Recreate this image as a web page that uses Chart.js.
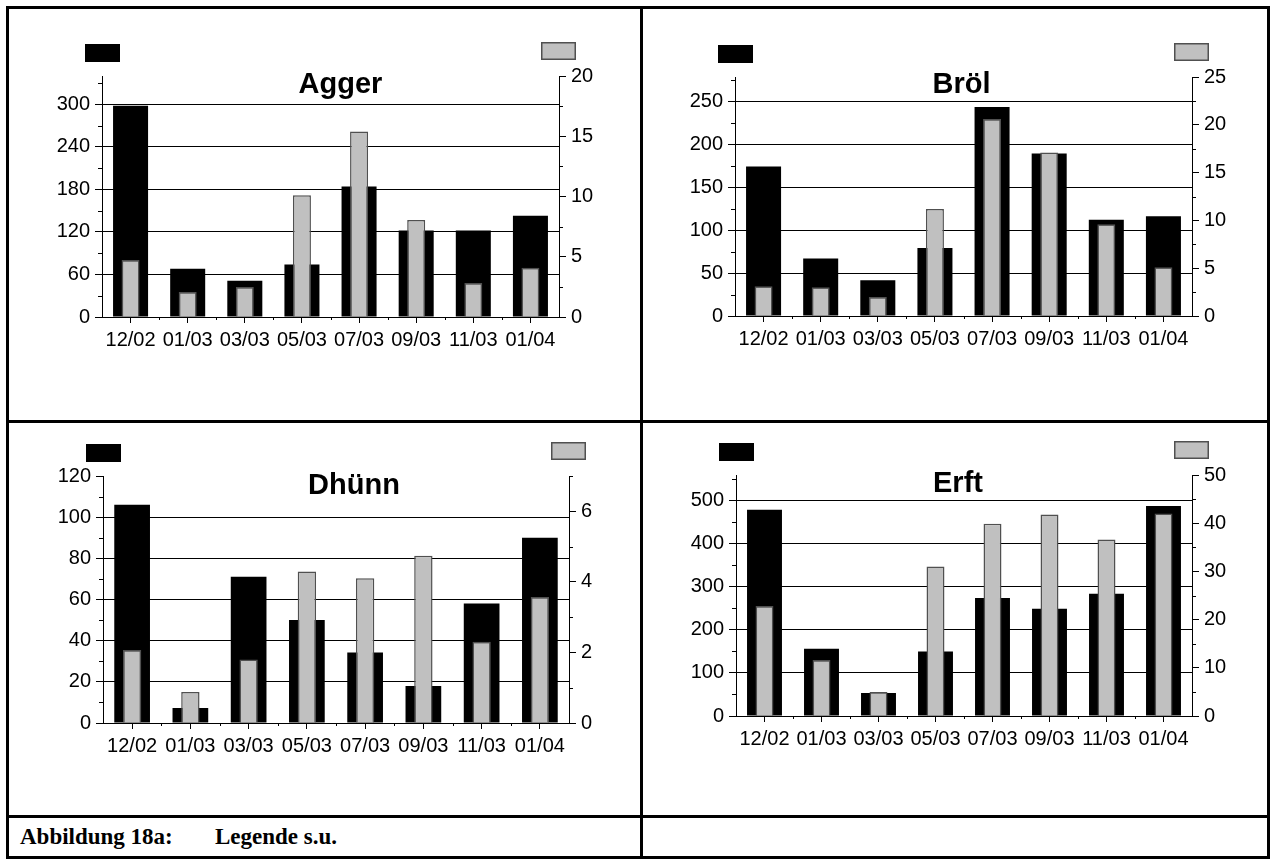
<!DOCTYPE html>
<html>
<head>
<meta charset="utf-8">
<script src="https://cdn.jsdelivr.net/npm/chart.js@4.4.1/dist/chart.umd.min.js"></script>
<style>
  html, body { margin: 0; padding: 0; background: #fff; }
  #page { position: relative; width: 1277px; height: 867px; overflow: hidden; background: #fff; }
  .cell { position: absolute; }
  .cell canvas { display: block; }
  .rule { position: absolute; background: #000; z-index: 5; }
  .caption { position: absolute; top: 823px; font: bold 23px "Liberation Serif", "Times New Roman", serif; color: #000; line-height: 28px; white-space: nowrap; }
</style>
</head>
<body>
<div id="page">
  <div class="cell" id="cell0"><canvas id="c0"></canvas></div>
  <div class="cell" id="cell1"><canvas id="c1"></canvas></div>
  <div class="cell" id="cell2"><canvas id="c2"></canvas></div>
  <div class="cell" id="cell3"><canvas id="c3"></canvas></div>

  <!-- table frame -->
  <div class="rule" style="left:6px; top:6px; width:1264px; height:3px;"></div>
  <div class="rule" style="left:6px; top:856px; width:1264px; height:3px;"></div>
  <div class="rule" style="left:6px; top:6px; width:3px; height:853px;"></div>
  <div class="rule" style="left:1267px; top:6px; width:3px; height:853px;"></div>
  <div class="rule" style="left:640px; top:6px; width:3px; height:853px;"></div>
  <div class="rule" style="left:6px; top:420px; width:1264px; height:3px;"></div>
  <div class="rule" style="left:6px; top:815px; width:1264px; height:3px;"></div>

  <div class="caption" style="left:20px;">Abbildung 18a:</div>
  <div class="caption" style="left:215px;">Legende s.u.</div>
</div>

<script>
// sampling dates
const categories = ['12/02', '01/03', '03/03', '05/03', '07/03', '09/03', '11/03', '01/04'];

// Agger
const aggerBlack = [298, 68, 51, 74, 184, 122, 122, 143];
const aggerGrey  = [4.73, 2.07, 2.49, 10.1, 15.4, 8.05, 2.82, 4.09];

// Bröl
const broelBlack = [174, 67, 41.5, 79, 243, 189, 112, 116];
const broelGrey  = [3.1, 3.0, 2.0, 11.2, 20.6, 17.1, 9.6, 5.1];

// Dhünn
const duennBlack = [106, 7.3, 71, 50, 34.3, 18, 58, 90];
const duennGrey  = [2.07, 0.88, 1.8, 4.29, 4.1, 4.74, 2.3, 3.57];

// Erft
const erftBlack = [479, 156, 53.5, 150, 274, 249, 284, 488];
const erftGrey  = [22.8, 11.6, 5.0, 31.0, 39.9, 41.8, 36.6, 42.0];

// axis ranges: [max, major step]
const aggerLeftAxis  = [340, 60];
const aggerRightAxis = [20, 5];
const broelLeftAxis  = [278, 50];
const broelRightAxis = [25, 5];
const duennLeftAxis  = [120, 20];
const duennRightAxis = [7, 2];
const erftLeftAxis   = [560, 100];
const erftRightAxis  = [50, 10];

// layout of the four panels (page pixels)
const panels = [
  { canvas: 'c0', cellId: 'cell0', title: 'Agger', black: aggerBlack, grey: aggerGrey,
    left: aggerLeftAxis, right: aggerRightAxis,
    cell: [9, 9, 631, 411], plot: [102, 76, 559, 317], titleDx: 10, titleDy: 17 },
  { canvas: 'c1', cellId: 'cell1', title: 'Bröl', black: broelBlack, grey: broelGrey,
    left: broelLeftAxis, right: broelRightAxis,
    cell: [643, 9, 624, 411], plot: [735, 77, 1192, 316], titleDx: -2, titleDy: 16 },
  { canvas: 'c2', cellId: 'cell2', title: 'Dhünn', black: duennBlack, grey: duennGrey,
    left: duennLeftAxis, right: duennRightAxis,
    cell: [9, 423, 631, 392], plot: [103, 476, 569, 723], titleDx: 18, titleDy: 18 },
  { canvas: 'c3', cellId: 'cell3', title: 'Erft', black: erftBlack, grey: erftGrey,
    left: erftLeftAxis, right: erftRightAxis,
    cell: [643, 423, 624, 392], plot: [736, 475, 1192, 716], titleDx: -6, titleDy: 17 }
];

const FONT = '"Liberation Sans", Arial, sans-serif';
const LEFT_W = 60, RIGHT_W = 50, BOTTOM_H = 40;

// title, legend swatches and minor ticks
const panelDecor = {
  id: 'panelDecor',
  afterDraw(chart, args, opts) {
    const ctx = chart.ctx;
    const a = chart.chartArea;
    const ys = chart.scales.y, y1 = chart.scales.y1, xs = chart.scales.x;
    ctx.save();

    // minor ticks
    ctx.strokeStyle = '#000';
    ctx.lineWidth = 1;
    ctx.beginPath();
    const lMinor = opts.leftStep / 2;
    for (let v = lMinor; v <= opts.leftMax + 1e-9; v += opts.leftStep) {
      const py = Math.round(ys.getPixelForValue(v)) + 0.5;
      ctx.moveTo(a.left - 4, py); ctx.lineTo(a.left, py);
    }
    const rMinor = opts.rightStep / 2;
    for (let v = rMinor; v <= opts.rightMax + 1e-9; v += opts.rightStep) {
      const py = Math.round(y1.getPixelForValue(v)) + 0.5;
      ctx.moveTo(a.right, py); ctx.lineTo(a.right + 4, py);
    }
    for (let i = 0; i < categories.length - 1; i++) {
      const px = Math.round((xs.getPixelForValue(i) + xs.getPixelForValue(i + 1)) / 2) + 0.5;
      ctx.moveTo(px, a.bottom); ctx.lineTo(px, a.bottom + 3);
    }
    ctx.stroke();

    // legend swatches above each value axis
    ctx.fillStyle = '#000';
    ctx.fillRect(Math.round(a.left) - 17, Math.round(a.top) - 32, 35, 18);
    ctx.fillStyle = '#c0c0c0';
    ctx.fillRect(Math.round(a.right) - 18, Math.round(a.top) - 34, 35, 18);
    ctx.strokeStyle = '#505050';
    ctx.lineWidth = 1.5;
    ctx.strokeRect(Math.round(a.right) - 18 + 0.75, Math.round(a.top) - 34 + 0.75, 33.5, 16.5);

    // panel title
    ctx.fillStyle = '#000';
    ctx.font = 'bold 29px ' + FONT;
    ctx.textAlign = 'center';
    ctx.textBaseline = 'alphabetic';
    ctx.fillText(opts.title, (a.left + a.right) / 2 + opts.titleDx, a.top + opts.titleDy);
    ctx.restore();
  }
};

function makeChart(p) {
  const [cx, cy, cw, ch] = p.cell;
  const [pl, pt, pr, pb] = p.plot;
  const holder = document.getElementById(p.cellId);
  holder.style.left = cx + 'px';
  holder.style.top = cy + 'px';
  holder.style.width = cw + 'px';
  holder.style.height = ch + 'px';
  const cv = document.getElementById(p.canvas);
  cv.width = cw; cv.height = ch;
  cv.style.width = cw + 'px'; cv.style.height = ch + 'px';

  const [lMax, lStep] = p.left;
  const [rMax, rStep] = p.right;
  const gridColor = (ctx) => {
    const v = ctx.tick ? ctx.tick.value : null;
    return (v === 0 || v === lMax) ? 'rgba(0,0,0,0)' : '#000';
  };

  return new Chart(cv, {
    type: 'bar',
    data: {
      labels: categories,
      datasets: [
        { label: p.title + ' (rechts)', data: p.grey, yAxisID: 'y1', order: 1,
          backgroundColor: '#c0c0c0', borderColor: '#505050', borderWidth: 1.5,
          grouped: false, categoryPercentage: 1, barPercentage: 0.315 },
        { label: p.title + ' (links)', data: p.black, yAxisID: 'y', order: 2,
          backgroundColor: '#000', borderWidth: 0,
          grouped: false, categoryPercentage: 1, barPercentage: 0.613 }
      ]
    },
    options: {
      responsive: false,
      animation: false,
      events: [],
      layout: {
        padding: {
          left: pl - cx - LEFT_W,
          right: (cx + cw) - pr - RIGHT_W,
          top: pt - cy,
          bottom: (cy + ch) - pb - BOTTOM_H
        }
      },
      plugins: {
        legend: { display: false },
        tooltip: { enabled: false },
        title: { display: false },
        panelDecor: { title: p.title, titleDx: p.titleDx, titleDy: p.titleDy,
          leftMax: lMax, leftStep: lStep, rightMax: rMax, rightStep: rStep }
      },
      scales: {
        x: {
          type: 'category',
          offset: true,
          afterFit: (s) => { s.height = BOTTOM_H; },
          grid: { display: true, drawOnChartArea: false, drawTicks: true, offset: false,
                  tickLength: 6, color: '#000', tickColor: '#000', lineWidth: 1 },
          border: { display: true, color: '#000', width: 1 },
          ticks: { color: '#000', font: { family: FONT, size: 20 }, padding: 5,
                   maxRotation: 0, minRotation: 0, autoSkip: false }
        },
        y: {
          position: 'left',
          min: 0, max: lMax,
          afterFit: (s) => { s.width = LEFT_W; },
          grid: { color: gridColor, tickColor: '#000', drawTicks: true, tickLength: 7, lineWidth: 1 },
          border: { display: true, color: '#000', width: 1 },
          ticks: { stepSize: lStep, includeBounds: false, color: '#000',
                   font: { family: FONT, size: 20 }, padding: 5 }
        },
        y1: {
          position: 'right',
          min: 0, max: rMax,
          afterFit: (s) => { s.width = RIGHT_W; },
          grid: { drawOnChartArea: false, drawTicks: true, tickLength: 7, color: '#000', tickColor: '#000' },
          border: { display: true, color: '#000', width: 1 },
          ticks: { stepSize: rStep, includeBounds: false, color: '#000',
                   font: { family: FONT, size: 20 }, padding: 5 }
        }
      }
    },
    plugins: [panelDecor]
  });
}

panels.forEach(makeChart);
</script>
</body>
</html>
